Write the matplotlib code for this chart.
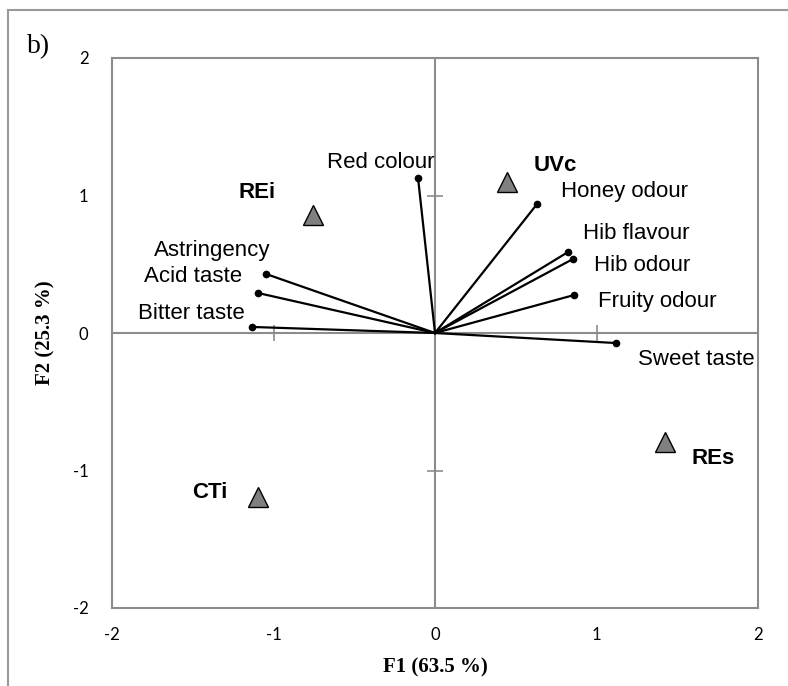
import matplotlib
matplotlib.use("Agg")
import matplotlib.pyplot as plt
from matplotlib.patches import Rectangle

plt.rcParams["axes.unicode_minus"] = False

# Sensory attributes (loadings on F1 / F2)
attributes = ["Red colour", "Astringency", "Acid taste", "Bitter taste",
              "Honey odour", "Hib flavour", "Hib odour", "Fruity odour", "Sweet taste"]
attr_f1 = [-0.105, -1.046, -1.096, -1.133, 0.632, 0.824, 0.854, 0.861, 1.121]
attr_f2 = [1.127, 0.429, 0.291, 0.044, 0.938, 0.589, 0.538, 0.276, -0.073]

# Samples (scores on F1 / F2)
samples = ["REi", "UVc", "REs", "CTi"]
samp_f1 = [-0.755, 0.446, 1.424, -1.096]
samp_f2 = [0.858, 1.098, -0.793, -1.19]

# label offsets in points, relative to the point
attr_offsets = [(-27, 11), (-39, 17), (-47, 12), (-44, 10),
                (63, 9), (49, 13), (50, -5), (60, -5), (58, -12)]
samp_offsets = [(-40, 16), (35, 12), (35, -12), (-35, 3)]

ticks = [-2, -1, 0, 1, 2]

fig = plt.figure(figsize=(7.88, 6.86), dpi=100)
ax = fig.add_axes([112/788, 78/686, 646/788, 550/686])

# outer frame of the panel
fig.patches.append(Rectangle((8/788, -0.1), 1.2, (676/686) + 0.1, transform=fig.transFigure,
                             fill=False, edgecolor="#999999", linewidth=1.5))
fig.text(27/788, 1 - 53/686, "b)", fontsize=20, family="Liberation Serif", va="baseline")

grey = "#8c8c8c"
ax.set_xlim(-2, 2)
ax.set_ylim(-2, 2)
for sp in ax.spines.values():
    sp.set_color(grey)
    sp.set_linewidth(1.5)
ax.axhline(0, color=grey, lw=1.5, zorder=1)
ax.axvline(0, color=grey, lw=1.5, zorder=1)
# tick crosses on the zero lines
ax.plot([-1, 1], [0, 0], ls="none", marker="|", ms=12, mew=1.2, color=grey, zorder=1)
ax.plot([0, 0], [-1, 1], ls="none", marker="_", ms=12, mew=1.2, color=grey, zorder=1)

ax.set_xticks(ticks)
ax.set_yticks(ticks)
ax.tick_params(length=0, labelsize=12, pad=14)
ax.tick_params(axis="y", pad=17)
for lab in ax.get_xticklabels() + ax.get_yticklabels():
    lab.set_family("Lato")

# vectors
for i in range(len(attributes)):
    ax.plot([0, attr_f1[i]], [0, attr_f2[i]], color="black", lw=1.6, zorder=3)
    ax.plot(attr_f1[i], attr_f2[i], "o", color="black", ms=4.5, zorder=4)
    ax.annotate(attributes[i], (attr_f1[i], attr_f2[i]), xytext=attr_offsets[i],
                textcoords="offset points", ha="center", va="center",
                fontsize=16, family="Liberation Sans")

# samples
ax.plot(samp_f1, samp_f2, ls="none", marker="^", ms=14, mfc="#808080",
        mec="black", mew=1.0, zorder=5)
for i in range(len(samples)):
    ax.annotate(samples[i], (samp_f1[i], samp_f2[i]), xytext=samp_offsets[i],
                textcoords="offset points", ha="center", va="center",
                fontsize=16, fontweight="bold", family="Liberation Sans")

ax.set_xlabel("F1 (63.5 %)", fontsize=15, fontweight="bold",
              family="Liberation Serif", labelpad=10)
ax.set_ylabel("F2 (25.3 %)", fontsize=15, fontweight="bold",
              family="Liberation Serif", labelpad=12)

fig.savefig("out.png", dpi=100)
